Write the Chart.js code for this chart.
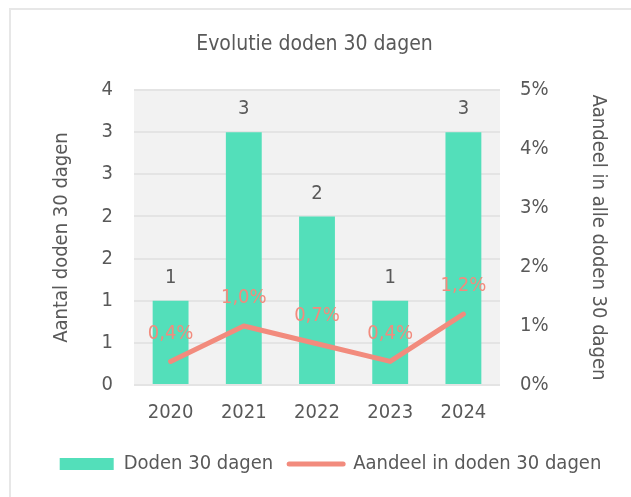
<!DOCTYPE html>
<html>
<head>
<meta charset="utf-8">
<script src="https://cdn.jsdelivr.net/npm/chart.js@4.4.1/dist/chart.umd.min.js"></script>
<style>
  html, body { margin: 0; padding: 0; background: #fff; }
  canvas { display: block; }
</style>
</head>
<body>
<canvas id="chart" width="631" height="497"></canvas>
<script>
const years = ["2020", "2021", "2022", "2023", "2024"];
const deaths = [1, 3, 2, 1, 3];
const sharePct = [0.4, 1.0, 0.7, 0.4, 1.2];
const leftTickLabels = ["0", "1", "1", "2", "2", "3", "3", "4"];

const FONT = "'DejaVu Sans Condensed', 'DejaVu Sans', sans-serif";
const GREY = "#595959";
const GREEN = "#53dfba";
const SALMON = "#f28b7d";
const GRID = "#e4e4e4";

const PLOT_LEFT = 134;
const PLOT_RIGHT = 500;
const PAD_LEFT = 10;
const PAD_BOTTOM = 13;

const fmtPct = (v) => v.toFixed(1).replace(".", ",") + "%";

// light frame on the left/top edge + grey plot background
const framePlugin = {
  id: "frame",
  afterLayout(chart) {
    // the reference centres title and legend a little off the canvas middle
    chart.titleBlock.left -= 6;
    chart.titleBlock.right -= 6;
    chart.legend.left += 10;
    chart.legend.right += 10;
  },
  beforeDraw(chart) {
    const { ctx, chartArea } = chart;
    ctx.save();
    ctx.fillStyle = "#e7e7e7";
    ctx.fillRect(9, 8, 2, chart.height);
    ctx.fillRect(9, 8, chart.width, 2);
    ctx.fillStyle = "#f2f2f2";
    ctx.fillRect(chartArea.left, chartArea.top, chartArea.right - chartArea.left, chartArea.bottom - chartArea.top);
    ctx.restore();
  },
};

const labelPlugin = {
  id: "valueLabels",
  afterDatasetsDraw(chart) {
    const { ctx } = chart;
    ctx.save();
    ctx.textAlign = "center";
    ctx.textBaseline = "middle";
    ctx.font = `20px ${FONT}`;
    chart.getDatasetMeta(0).data.forEach((bar, i) => {
      ctx.fillStyle = GREY;
      ctx.fillText(String(deaths[i]), bar.x, bar.y - 23);
    });
    chart.getDatasetMeta(1).data.forEach((pt, i) => {
      ctx.fillStyle = SALMON;
      ctx.fillText(fmtPct(sharePct[i]), pt.x, pt.y - 28);
    });
    ctx.restore();
  },
};

new Chart(document.getElementById("chart"), {
  data: {
    labels: years,
    datasets: [
      {
        type: "bar",
        label: "Doden 30 dagen",
        data: deaths,
        backgroundColor: GREEN,
        barPercentage: 0.98,
        categoryPercentage: 0.5,
        yAxisID: "y",
        order: 2,
      },
      {
        type: "line",
        label: "Aandeel in doden 30 dagen",
        data: sharePct,
        borderColor: SALMON,
        backgroundColor: SALMON,
        borderWidth: 5,
        borderCapStyle: "round",
        borderJoinStyle: "round",
        pointRadius: 0,
        tension: 0,
        yAxisID: "y1",
        order: 1,
      },
    ],
  },
  options: {
    responsive: false,
    animation: false,
    devicePixelRatio: 1,
    layout: { padding: { left: PAD_LEFT, right: 0, top: 0, bottom: PAD_BOTTOM } },
    plugins: {
      title: {
        display: true,
        text: "Evolutie doden 30 dagen",
        color: GREY,
        font: { family: FONT, size: 21, weight: "normal" },
        padding: { top: 32.4, bottom: 32.4 },
      },
      legend: {
        position: "bottom",
        labels: {
          color: GREY,
          font: { family: FONT, size: 20 },
          usePointStyle: true,
          pointStyleWidth: 54,
          boxHeight: 12,
          padding: 16,
          sort: (a, b) => a.datasetIndex - b.datasetIndex,
          generateLabels(chart) {
            const items = Chart.defaults.plugins.legend.labels.generateLabels(chart);
            items.forEach((item) => {
              if (item.datasetIndex === 0) {
                item.pointStyle = "rect";
                item.lineWidth = 0;
                item.fillStyle = GREEN;
                item.strokeStyle = GREEN;
              } else {
                item.pointStyle = "line";
                item.lineWidth = 5;
                item.lineCap = "round";
                item.strokeStyle = SALMON;
              }
            });
            return items;
          },
        },
      },
      tooltip: { enabled: false },
    },
    scales: {
      x: {
        grid: { display: false, drawTicks: false },
        border: { display: false },
        ticks: { color: GREY, font: { family: FONT, size: 20 }, padding: 16 },
        afterFit(scale) { scale.height = 53; },
      },
      y: {
        position: "left",
        min: 0,
        max: 3.5,
        grid: { color: GRID, lineWidth: 2, drawTicks: false },
        border: { display: false },
        ticks: {
          stepSize: 0.5,
          color: GREY,
          font: { family: FONT, size: 20 },
          padding: 21,
          callback: (value, index) => leftTickLabels[index],
        },
        title: {
          display: true,
          text: "Aantal doden 30 dagen",
          color: GREY,
          font: { family: FONT, size: 20 },
          padding: { top: 40, bottom: 0 },
        },
        afterFit(scale) { scale.width = PLOT_LEFT - PAD_LEFT; },
      },
      y1: {
        position: "right",
        min: 0,
        max: 5,
        grid: { drawOnChartArea: false, drawTicks: false },
        border: { display: false },
        ticks: {
          stepSize: 1,
          color: GREY,
          font: { family: FONT, size: 20 },
          padding: 20,
          callback: (value) => value + "%",
        },
        title: {
          display: true,
          text: "Aandeel in alle doden 30 dagen",
          color: GREY,
          font: { family: FONT, size: 20 },
          padding: { top: 21, bottom: 0 },
        },
        afterFit(scale) { scale.width = 631 - PLOT_RIGHT; },
      },
    },
  },
  plugins: [framePlugin, labelPlugin],
});
</script>
</body>
</html>
